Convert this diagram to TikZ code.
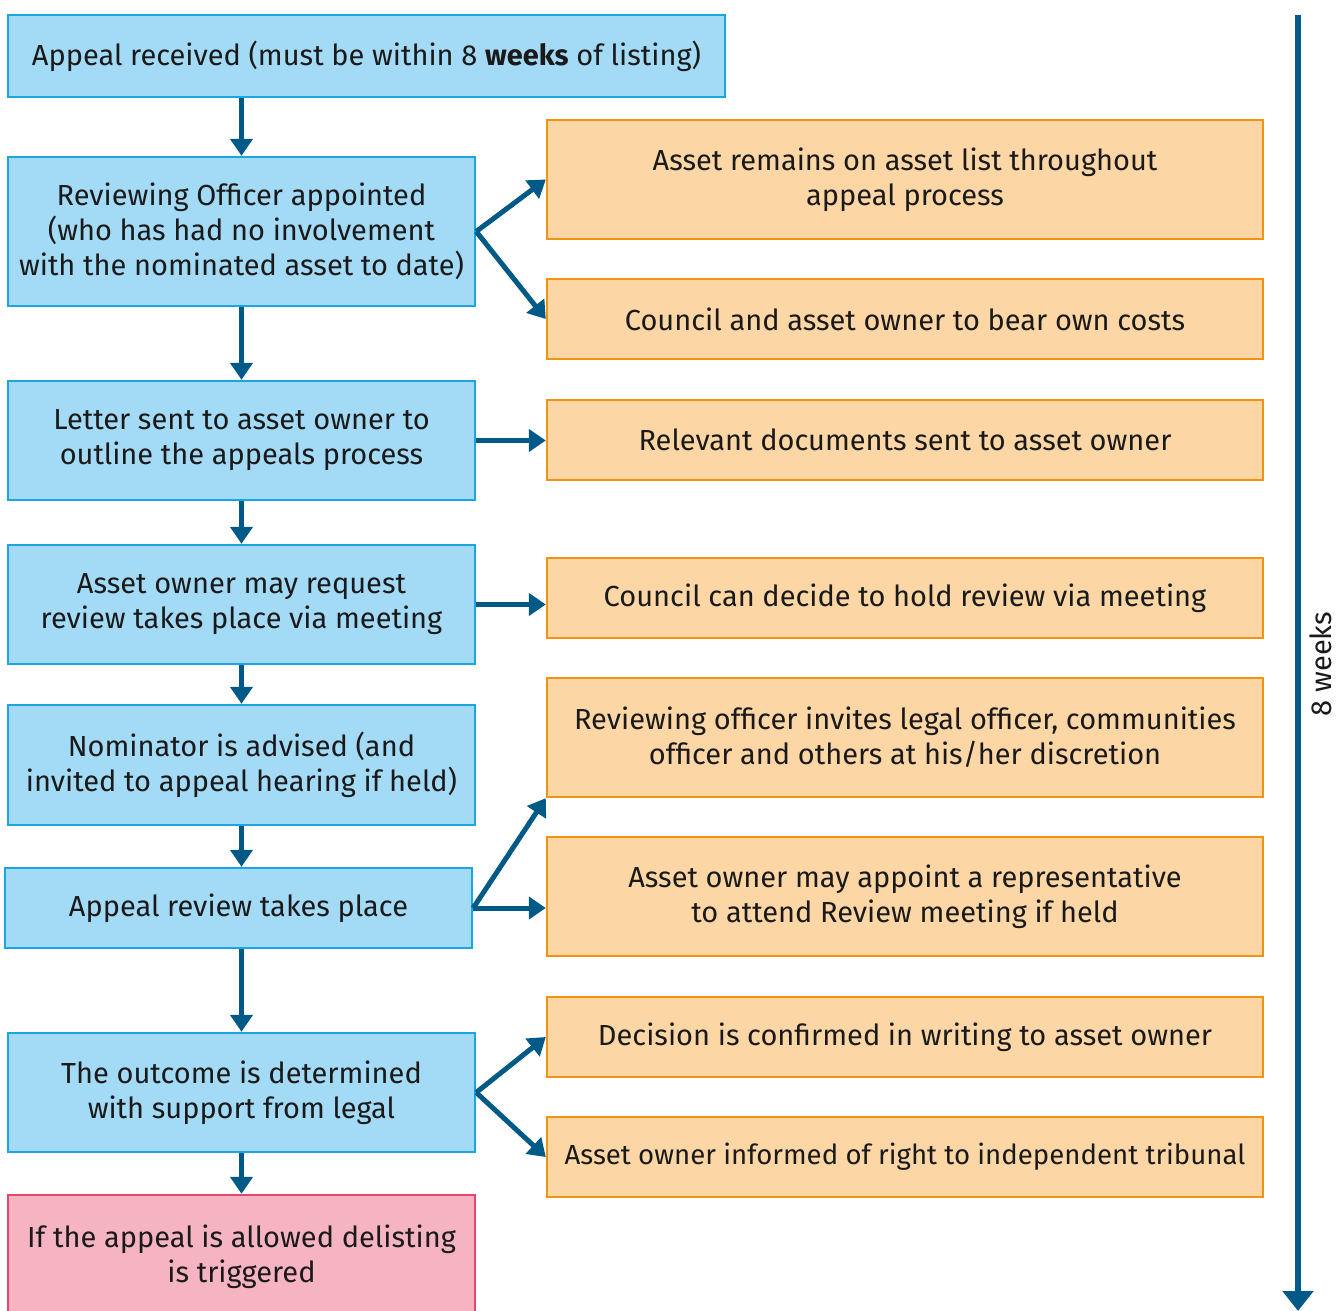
\documentclass[tikz,border=0pt]{standalone}
\usepackage{fontspec}
\setmainfont{Fira Sans}
\usetikzlibrary{arrows.meta}
\definecolor{stepfill}{HTML}{A3DAF6}
\definecolor{stepline}{HTML}{1CA6E0}
\definecolor{notefill}{HTML}{FCD6A5}
\definecolor{noteline}{HTML}{F39314}
\definecolor{endfill}{HTML}{F6B4C3}
\definecolor{endline}{HTML}{E6466C}
\definecolor{flow}{HTML}{005A87}
\definecolor{ink}{HTML}{1A1A1A}
\begin{document}
\begin{tikzpicture}[x=0.5pt,y=-0.5pt,
  every node/.style={font=\fontsize{14.5}{17.5}\selectfont, text=ink, align=center, inner sep=0pt},
  stepbox/.style={draw=stepline, fill=stepfill, line width=1.2pt},
  notebox/.style={draw=noteline, fill=notefill, line width=1.2pt, minimum width=358pt},
  endbox/.style={draw=endline, fill=endfill, line width=1.2pt},
  flowarrow/.style={draw=flow, line width=2.5pt, -{Triangle[width=11pt,length=8.5pt]}},
  timearrow/.style={draw=flow, line width=3pt, -{Triangle[width=15pt,length=10pt]}}]
\useasboundingbox (0,0) rectangle (1338,1311);

% main sequence of steps
\node[stepbox, minimum width=358.5pt, minimum height=41pt] (recv) at (366.5,56)
  {Appeal received (must be within 8 \textbf{weeks} of listing)};
\node[stepbox, minimum width=233.5pt, minimum height=74.5pt] (ro) at (241.5,231.5)
  {Reviewing Officer appointed\\(who has had no involvement\\with the nominated asset to date)};
\node[stepbox, minimum width=233.5pt, minimum height=59.5pt] (letter) at (241.5,440.5)
  {Letter sent to asset owner to\\outline the appeals process};
\node[stepbox, minimum width=233.5pt, minimum height=59.5pt] (req) at (241.5,604.5)
  {Asset owner may request\\review takes place via meeting};
\node[stepbox, minimum width=233.5pt, minimum height=60pt] (nom) at (241.5,765)
  {Nominator is advised (and\\invited to appeal hearing if held)};
\node[stepbox, minimum width=233.5pt, minimum height=40pt] (rev) at (238.5,908)
  {Appeal review takes place};
\node[stepbox, minimum width=233.5pt, minimum height=59.5pt] (out) at (241.5,1092.5)
  {The outcome is determined\\with support from legal};
\node[endbox, minimum width=233.5pt, minimum height=62pt] (del) at (241.5,1257)
  {If the appeal is allowed delisting\\is triggered};

% side notes
\node[notebox, minimum height=59.5pt] (r1) at (905,179.5)
  {Asset remains on asset list throughout\\appeal process};
\node[notebox, minimum height=40pt] (r2) at (905,319)
  {Council and asset owner to bear own costs};
\node[notebox, minimum height=40pt] (r3) at (905,440)
  {Relevant documents sent to asset owner};
\node[notebox, minimum height=40pt] (r4) at (905,598)
  {Council can decide to hold review via meeting};
\node[notebox, minimum height=59.5pt] (r5) at (905,737.5)
  {Reviewing officer invites legal officer, communities\\officer and others at his/her discretion};
\node[notebox, minimum height=59.5pt] (r6) at (905,896.5)
  {Asset owner may appoint a representative\\to attend Review meeting if held};
\node[notebox, minimum height=40pt] (r7) at (905,1037)
  {Decision is confirmed in writing to asset owner};
\node[notebox, minimum height=40pt, font=\fontsize{13.8}{17.5}\selectfont] (r8) at (905,1157)
  {Asset owner informed of right to independent tribunal};

% downward flow
\draw[flowarrow] (recv.south -| ro.north) -- (ro.north);
\draw[flowarrow] (ro.south) -- (letter.north);
\draw[flowarrow] (letter.south) -- (req.north);
\draw[flowarrow] (req.south) -- (nom.north);
\draw[flowarrow] (nom.south) -- (nom.south |- rev.north);
\draw[flowarrow] (rev.south -| out.north) -- (out.north);
\draw[flowarrow] (out.south) -- (del.north);

% branches to side notes
\draw[flowarrow] (ro.east) -- (r1.west);
\draw[flowarrow] (ro.east) -- (r2.west);
\draw[flowarrow] (letter.east) -- (letter.east -| r3.west);
\draw[flowarrow] (req.east) -- (req.east -| r4.west);
\draw[flowarrow] (rev.east) -- (r5.south west);
\draw[flowarrow] (rev.east) -- (rev.east -| r6.west);
\draw[flowarrow] (out.east) -- (r7.west);
\draw[flowarrow] (out.east) -- (r8.west);

% overall timescale
\coordinate (tTop) at (1298,15);
\coordinate (tBot) at (1298,1311);
\draw[timearrow] (tTop) -- (tBot);
\node[rotate=90] (weeks) at (1321,664) {8 weeks};
\end{tikzpicture}
\end{document}
